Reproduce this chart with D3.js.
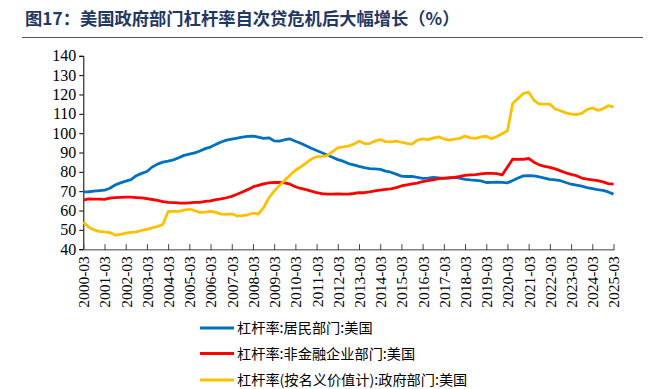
<!DOCTYPE html>
<html><head><meta charset="utf-8">
<script src="https://cdn.jsdelivr.net/npm/d3@7"></script>
<style>
html,body{margin:0;padding:0;background:#fff;}
svg{display:block;}
</style></head>
<body>
<svg id="chart" width="650" height="389"></svg>
<script>
// ---------- DATA ----------
const titleText = "图17：美国政府部门杠杆率自次贷危机后大幅增长（%）";
const years = d3.range(2000, 2026);
const months = ["03","06","09","12"];
const categories = [];
years.forEach(y => months.forEach(m => { if (!(y === 2025 && m !== "03")) categories.push(y + "-" + m); }));
const tickLabels = years.map(y => y + "-03");
const yTicks = [40,50,60,70,80,90,100,110,120,130,140];

const seriesNames = ["杠杆率:居民部门:美国","杠杆率:非金融企业部门:美国","杠杆率(按名义价值计):政府部门:美国"];
const seriesColors = ["#0070C0","#FF0000","#FFC000"];

const household = [
69.6,69.7,70.0,70.3,70.5,71.5,73.2,74.3,75.2,76.0,
78.0,79.2,80.2,82.5,84.0,85.0,85.5,86.2,87.3,88.5,
89.2,89.8,90.8,92.0,92.8,94.2,95.4,96.4,96.9,97.4,
98.0,98.3,98.5,98.0,97.3,97.6,96.0,95.9,96.6,97.0,
95.8,94.8,93.5,92.2,91.0,89.9,88.7,87.5,86.3,85.5,
84.3,83.6,82.8,82.2,81.7,81.5,81.3,80.4,79.8,78.8,
77.8,77.6,77.6,77.1,76.6,76.8,77.1,76.9,76.6,76.8,
77.1,76.7,76.1,75.8,75.6,75.3,74.5,74.6,74.7,74.6,
74.3,75.5,76.8,77.9,78.0,77.9,77.4,76.8,76.1,75.8,
75.4,74.5,73.6,73.1,72.6,71.8,71.3,70.8,70.4,69.6,
68.5];
const corporate = [
65.4,66.0,65.9,65.9,65.8,66.4,66.7,66.8,66.9,66.9,
66.7,66.5,66.1,65.7,65.3,64.6,64.2,64.1,63.9,63.8,
64.0,64.2,64.2,64.7,65.0,65.6,66.0,66.6,67.3,68.4,
69.6,70.8,72.2,73.0,73.8,74.3,74.5,74.5,74.3,73.6,
72.3,71.4,70.8,70.0,69.3,68.7,68.5,68.5,68.6,68.5,
68.5,68.8,69.3,69.2,69.6,70.2,70.5,70.9,71.2,71.8,
72.7,73.2,73.8,74.2,75.0,75.5,75.9,76.5,76.8,77.0,
77.1,77.6,78.2,78.4,78.6,79.0,79.2,79.2,79.1,78.4,
82.5,86.6,86.4,86.5,86.9,85.0,83.6,82.8,82.3,81.5,
80.5,79.5,78.7,78.0,76.8,76.2,75.8,75.4,74.8,73.9,
73.7];
const government = [
54.0,51.5,50.0,49.2,49.0,48.6,47.3,47.6,48.3,48.7,
49.0,49.7,50.3,51.0,51.8,52.8,59.5,59.6,59.6,60.2,
60.7,60.0,59.0,59.2,59.6,59.0,58.1,58.0,58.3,57.2,
57.3,57.8,58.6,58.2,61.5,66.5,70.0,73.0,75.7,78.2,
80.8,82.5,84.5,86.6,87.8,88.0,88.4,90.5,92.4,92.9,
93.3,94.3,95.9,94.6,94.6,95.9,96.7,95.6,95.5,95.9,
95.3,94.7,94.3,96.4,97.0,96.7,97.4,98.1,97.1,96.4,
96.9,97.3,98.5,97.6,97.3,98.1,98.4,97.1,98.3,99.7,
101.2,115.5,118.0,120.5,121.2,117.0,115.0,115.0,115.0,112.5,
111.6,110.5,109.8,109.6,110.2,112.2,113.0,111.8,112.6,114.2,
113.6];
const seriesValues = [household, corporate, government];

// ---------- DRAW ----------
const svg = d3.select("#chart");
const plotLeft = 83.3, plotRight = 613.5, plotTop = 55.8, plotBottom = 249.2;

svg.append("text").attr("x", 25).attr("y", 25)
  .attr("font-family", "'Noto Sans CJK SC', sans-serif").attr("font-weight", "bold")
  .attr("font-size", 17.3).attr("fill", "#1F3864").text(titleText);
svg.append("line").attr("x1", 22).attr("x2", 643).attr("y1", 37.5).attr("y2", 37.5)
  .attr("stroke", "#555").attr("stroke-width", 1);

const x = d3.scalePoint().domain(categories).range([plotLeft, plotRight]);
const y = d3.scaleLinear().domain([40, 140]).range([plotBottom, plotTop]);

// y axis
const yAxis = d3.axisLeft(y).tickValues(yTicks).tickSize(4).tickPadding(3);
const gy = svg.append("g").attr("transform", `translate(${plotLeft},0)`).call(yAxis);
gy.select(".domain").attr("stroke", "#000");
gy.selectAll(".tick line").attr("stroke", "#000");
gy.selectAll("text").attr("font-family", "'Liberation Serif', serif").attr("font-size", 16).attr("fill", "#000");

// x axis
const xAxis = d3.axisBottom(x).tickValues(tickLabels).tickSize(-5).tickSizeOuter(0).tickFormat(d => d);
const gx = svg.append("g").attr("transform", `translate(0,${plotBottom})`).call(xAxis);
gx.select(".domain").attr("stroke", "#808080").attr("stroke-width", 1.5);
gx.selectAll(".tick line").attr("stroke", "#404040").attr("y2", -5).attr("y1", 1);
gx.selectAll("text")
  .attr("font-family", "'Liberation Serif', serif").attr("font-size", 15.5).attr("fill", "#000")
  .attr("text-anchor", "end").attr("transform", "rotate(-90)")
  .attr("x", -7).attr("y", 0).attr("dy", "0.35em");

// lines
const line = d3.line().x((d, i) => x(categories[i])).y(d => y(d));
seriesValues.forEach((vals, k) => {
  svg.append("path").datum(vals).attr("d", line).attr("fill", "none")
    .attr("stroke", seriesColors[k]).attr("stroke-width", 2.8)
    .attr("stroke-linejoin", "round");
});

// legend
const legY = [328, 353.5, 380];
seriesNames.forEach((name, k) => {
  svg.append("line").attr("x1", 200).attr("x2", 234).attr("y1", legY[k]).attr("y2", legY[k])
    .attr("stroke", seriesColors[k]).attr("stroke-width", 3);
  svg.append("text").attr("x", 237).attr("y", legY[k]).attr("dy", "0.36em")
    .attr("font-family", "'Noto Sans CJK SC', sans-serif").attr("font-size", 14.2)
    .attr("fill", "#000").text(name);
});
</script>
</body></html>
